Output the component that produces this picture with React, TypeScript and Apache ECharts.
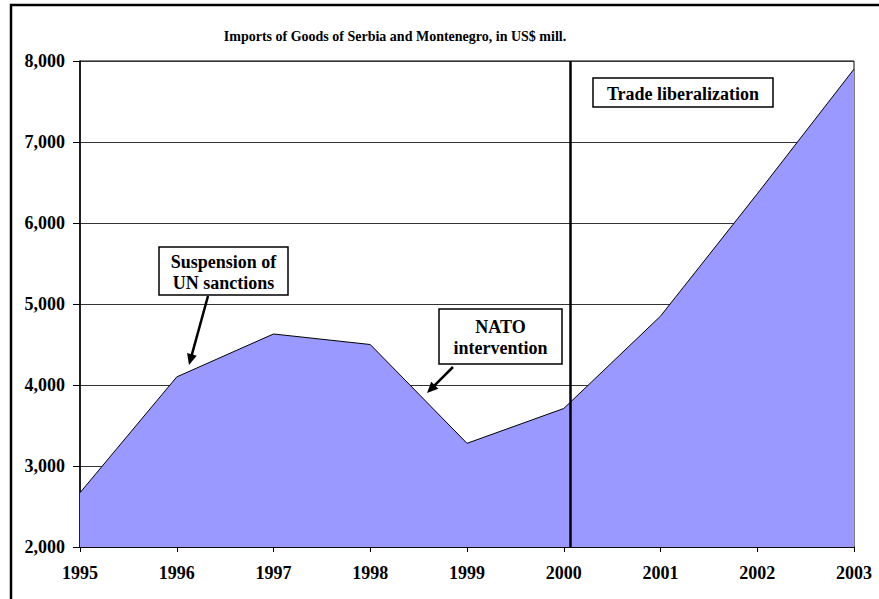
import React, { useEffect, useRef } from "react";
import * as echarts from "echarts";

const years = [1995, 1996, 1997, 1998, 1999, 2000, 2001, 2002, 2003];
const imports = [2670, 4100, 4630, 4500, 3280, 3710, 4850, 6360, 7900];
const liberalizationYear = 2000.07;
const yMin = 2000;
const yMax = 8000;
const yStep = 1000;

const titleText = "Imports of Goods of Serbia and Montenegro, in US$ mill.";
const notes = [
  { lines: ["Suspension of", "UN sanctions"], box: [159, 247, 129, 48], arrow: [208, 296, 189, 365] },
  { lines: ["NATO", "intervention"], box: [439, 309, 123, 55], arrow: [453, 367, 427, 393] },
  { lines: ["Trade liberalization"], box: [593, 78, 180, 29], arrow: null as null | number[] },
];

const FONT = "'Liberation Serif', 'Times New Roman', serif";

function arrowGraphics(a: number[]) {
  const [x1, y1, x2, y2] = a;
  const dx = x2 - x1;
  const dy = y2 - y1;
  const len = Math.sqrt(dx * dx + dy * dy);
  const ux = dx / len;
  const uy = dy / len;
  const headLen = 11;
  const headW = 5;
  const bx = x2 - ux * headLen;
  const by = y2 - uy * headLen;
  return [
    {
      type: "line",
      shape: { x1, y1, x2: bx + ux * 2, y2: by + uy * 2 },
      style: { stroke: "#000", lineWidth: 2.5 },
      z: 100,
    },
    {
      type: "polygon",
      shape: {
        points: [
          [x2, y2],
          [bx - uy * headW, by + ux * headW],
          [bx + uy * headW, by - ux * headW],
        ],
      },
      style: { fill: "#000" },
      z: 100,
    },
  ];
}

export default function App() {
  const ref = useRef<HTMLDivElement>(null);
  useEffect(() => {
    if (!ref.current) return;
    const chart = echarts.init(ref.current, undefined, { renderer: "svg" });
    const graphics: any[] = [
      {
        type: "rect",
        shape: { x: 11, y: 5, width: 880, height: 610 },
        style: { fill: "none", stroke: "#000", lineWidth: 2.5 },
        z: 100,
      },
    ];
    notes.forEach((n) => {
      const [bx, by, bw, bh] = n.box;
      graphics.push({
        type: "rect",
        shape: { x: bx, y: by, width: bw, height: bh },
        style: { fill: "#fff", stroke: "#000", lineWidth: 1.5 },
        z: 100,
      });
      graphics.push({
        type: "text",
        x: bx + bw / 2,
        y: by + bh / 2 + 1,
        style: {
          text: n.lines.join("\n"),
          font: `bold 18px ${FONT}`,
          fill: "#000",
          align: "center",
          verticalAlign: "middle",
          lineHeight: 21,
        },
        z: 101,
      });
      if (n.arrow) graphics.push(...arrowGraphics(n.arrow));
    });
    graphics.push({
      type: "text",
      x: 395,
      y: 36,
      style: {
        text: titleText,
        font: `bold 14px ${FONT}`,
        fill: "#000",
        align: "center",
        verticalAlign: "middle",
      },
      z: 100,
    });

    chart.setOption({
      animation: false,
      backgroundColor: "#fff",
      grid: {
        left: 80,
        right: 25,
        top: 61,
        bottom: 52,
        show: true,
        borderColor: "#000",
        borderWidth: 1,
        backgroundColor: "transparent",
      },
      xAxis: {
        type: "value",
        min: 1995,
        max: 2003,
        interval: 1,
        axisLine: { show: true, lineStyle: { color: "#000", width: 1.5 } },
        axisTick: { show: true, length: 5, lineStyle: { color: "#000" } },
        splitLine: { show: false },
        axisLabel: {
          formatter: (v: number) => String(v),
          color: "#000",
          fontFamily: FONT,
          fontWeight: "bold",
          fontSize: 18,
          margin: 17,
        },
      },
      yAxis: {
        type: "value",
        min: yMin,
        max: yMax,
        interval: yStep,
        axisLine: { show: true, lineStyle: { color: "#000", width: 1.5 } },
        axisTick: { show: true, length: 7, lineStyle: { color: "#000" } },
        splitLine: { show: true, lineStyle: { color: "#333", width: 1 } },
        axisLabel: {
          formatter: (v: number) => v.toLocaleString("en-US"),
          color: "#000",
          fontFamily: FONT,
          fontWeight: "bold",
          fontSize: 18,
          margin: 15,
        },
      },
      series: [
        {
          type: "line",
          data: years.map((y, i) => [y, imports[i]]),
          symbol: "none",
          lineStyle: { color: "#000", width: 1 },
          areaStyle: { color: "#9999FF", opacity: 1 },
          markLine: {
            silent: true,
            symbol: ["none", "none"],
            label: { show: false },
            lineStyle: { color: "#000", width: 2.5, type: "solid" },
            data: [{ xAxis: liberalizationYear }],
          },
        },
      ],
      graphic: graphics,
    });
    return () => chart.dispose();
  }, []);
  return (
    <div
      ref={ref}
      style={{ position: "fixed", left: 0, top: 0, width: 879, height: 599 }}
    />
  );
}
